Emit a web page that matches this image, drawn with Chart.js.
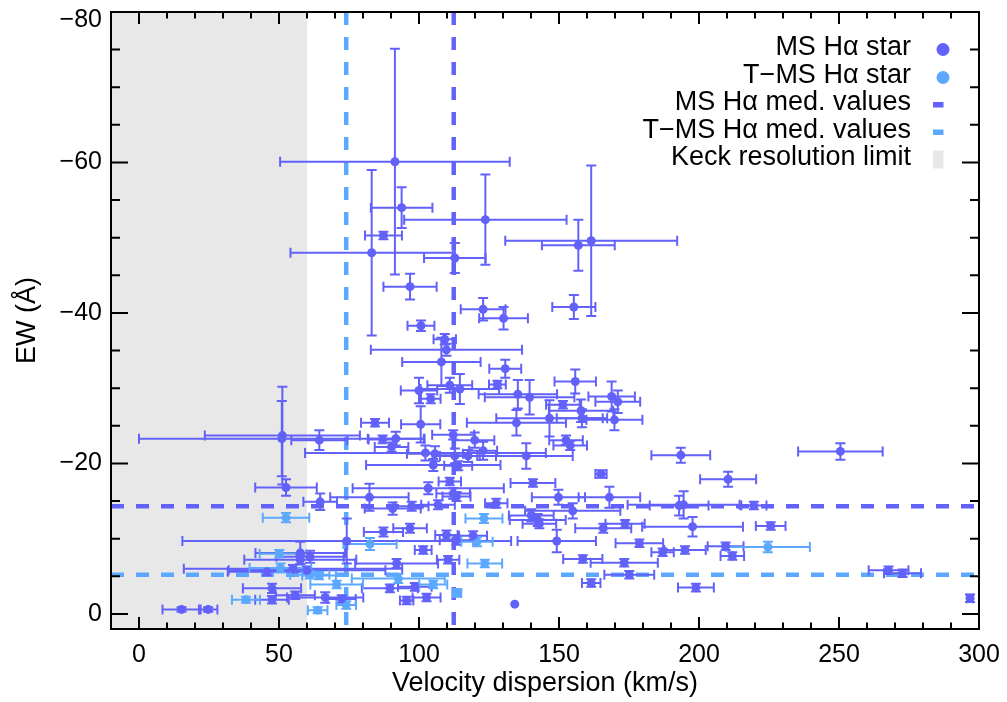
<!DOCTYPE html>
<html>
<head>
<meta charset="utf-8">
<script src="https://cdn.jsdelivr.net/npm/chart.js@4.4.0/dist/chart.umd.min.js"></script>
<style>
  html, body { margin: 0; padding: 0; background: #fff; }
  #wrap { width: 1007px; height: 702px; position: relative; }
</style>
</head>
<body>
<div id="wrap"><canvas id="ewChart"></canvas></div>
<script>
// ---- data ----
const xTicks = [0, 50, 100, 150, 200, 250, 300];
const yTicks = [-80, -60, -40, -20, 0];

// MS Halpha stars: velocity dispersion, EW, and their errors
const msSigma = [91.4, 93.8, 123.7, 87.3, 83.1, 112.8, 161.5, 156.9, 96.8, 155.3,
  122.9, 130.2, 100.7, 109.2, 109.8, 108.0, 130.8, 155.8, 100.0, 104.2,
  111.0, 114.6, 128.0, 135.3, 139.5, 151.4, 157.9, 168.8, 171.0, 169.8,
  158.2, 146.6, 134.8, 100.6, 112.2, 119.9, 152.5, 154.0, 51.2, 51.0,
  64.4, 84.3, 87.0, 91.7, 90.2, 102.3, 105.7, 112.8, 117.5, 122.9,
  138.3, 105.1, 114.0, 193.5, 250.5, 210.4, 165.0, 140.7, 52.5, 103.3,
  111.0, 112.2, 113.4, 149.8, 168.0, 64.7, 82.3, 90.6, 97.4, 106.8,
  127.6, 154.9, 192.9, 194.5, 219.6, 140.1, 142.4, 143.0, 173.6, 165.8,
  197.7, 225.6, 87.3, 96.8, 109.8, 119.3, 113.4, 74.2, 149.2, 178.7,
  187.0, 195.0, 209.5, 211.9, 101.5, 57.6, 110.4, 158.5, 173.3, 92.0,
  61.1, 57.6, 45.7, 55.0, 60.0, 175.1, 267.7, 272.7, 161.5, 198.9,
  89.6, 98.5, 47.5, 47.5, 55.8, 66.5, 72.4, 102.7, 95.6, 134.2,
  15.2, 24.7, 296.8];
const msEW = [-60.1, -54.0, -52.4, -50.3, -48.0, -47.3, -49.6, -49.0, -43.5, -40.8,
  -40.5, -39.3, -38.3, -36.5, -35.1, -33.5, -32.6, -30.9, -29.7, -28.6,
  -30.4, -29.9, -30.5, -29.2, -28.8, -27.8, -27.0, -28.9, -28.2, -25.8,
  -26.0, -26.0, -25.4, -25.2, -23.8, -23.1, -23.1, -22.4, -23.7, -23.3,
  -23.1, -25.4, -23.2, -23.3, -22.2, -21.4, -21.3, -21.0, -21.0, -21.7,
  -21.0, -19.8, -19.7, -21.1, -21.6, -17.9, -18.6, -17.4, -16.8, -16.7,
  -17.6, -16.0, -15.6, -15.5, -15.5, -14.9, -15.5, -14.0, -14.3, -14.5,
  -14.7, -13.7, -14.4, -14.5, -14.4, -13.1, -12.5, -12.0, -12.0, -11.4,
  -11.6, -11.7, -10.9, -11.4, -10.5, -10.4, -9.8, -9.7, -9.7, -9.4,
  -8.2, -8.5, -9.0, -7.7, -8.5, -8.1, -7.2, -7.3, -6.8, -6.7,
  -7.6, -7.2, -5.6, -6.0, -5.8, -5.2, -5.8, -5.4, -4.1, -3.5,
  -3.4, -3.6, -3.4, -1.9, -2.5, -2.2, -2.0, -2.2, -1.8, -1.3,
  -0.6, -0.6, -2.1];
const msSigmaErr = [41, 11, 29, 6.6, 29, 11, 30.7, 13, 9.5, 7.7,
  8, 8.7, 4.8, 4, 27, 14, 5.7, 7.4, 6.5, 3.5,
  8, 14, 3, 14, 16, 6, 11.5, 8.3, 8, 10,
  9, 19, 17.7, 7, 7.5, 7, 6, 6, 27.7, 51,
  10, 5, 5, 10, 6, 43, 10, 8, 10, 5,
  16.6, 24, 5, 10.5, 15.1, 10, 2, 8, 11, 27,
  4, 6, 5, 9.5, 11, 6, 14, 10, 6, 6,
  4, 17, 10.5, 20, 4.5, 8, 10, 6, 7, 10,
  18, 5.3, 7, 6, 4, 5, 6, 58.7, 14, 8.5,
  4, 7.4, 6.4, 4.2, 3, 16, 4, 7, 12, 14.8,
  12, 20, 14, 39, 28, 8.9, 7.1, 6.6, 3.3, 6.4,
  10, 6, 10.4, 6, 7, 13.6, 5, 5, 2.4, 0,
  6.8, 3.3, 1];
const msEWErr = [15, 2.7, 6, 0.5, 11, 2, 10, 3.4, 1.7, 1.6,
  1.5, 1.5, 0.7, 0.7, 0.8, 3.2, 1.2, 1.6, 1.7, 0.6,
  1, 2, 0.5, 1.9, 2.3, 0.5, 1.5, 2, 1.5, 1.4,
  1.2, 2.4, 1.7, 2.4, 0.6, 1, 0.6, 0.6, 6.5, 5,
  1.3, 0.5, 0.5, 0.9, 0.6, 1, 1, 1, 0.8, 1.2,
  1.7, 0.8, 0.6, 1, 1.1, 1, 0.5, 0.5, 1.1, 0.8,
  0.5, 0.7, 0.6, 1, 1.4, 1.1, 1.8, 0.8, 0.6, 0.6,
  0.6, 1, 1.3, 1.8, 0.5, 0.8, 0.8, 0.6, 0.5, 0.6,
  1.3, 0.5, 0.6, 0.6, 0.6, 0.6, 0.6, 3, 1.5, 0.5,
  0.5, 0.5, 0.5, 0.5, 0.5, 1.5, 0.5, 0.5, 0.5, 0.6,
  0.8, 0.6, 0.5, 0.5, 0.5, 0.5, 0.5, 0.5, 0.5, 0.5,
  0.5, 0.5, 0.6, 0.5, 0.5, 0.7, 0.5, 0.5, 0.5, 0,
  0.3, 0.3, 0.5];

// T-MS Halpha stars
const tmsSigma = [52.5, 50.1, 50.5, 61.0, 64.3, 82.5, 70.6, 74.0, 63.8, 38.2,
  92.6, 105.1, 113.6, 123.2, 120.7, 123.5, 224.6];
const tmsEW = [-12.8, -8.0, -6.1, -5.2, -5.1, -9.3, -3.9, -1.2, -0.5, -1.9,
  -4.7, -3.9, -2.8, -12.7, -9.6, -6.7, -8.9];
const tmsSigmaErr = [8.3, 7, 11, 7, 6, 9.5, 9.4, 3.5, 3.5, 5,
  16.6, 5, 1.5, 6.6, 5.6, 6.2, 15];
const tmsEWErr = [0.6, 0.5, 0.6, 0.5, 0.5, 0.8, 0.5, 0.5, 0.4, 0.4,
  0.6, 0.5, 0.5, 0.6, 0.6, 0.5, 0.7];

// median values and resolution limit
const msMedSigma = 112.4;
const msMedEW = -14.3;
const tmsMedSigma = 74.0;
const tmsMedEW = -5.2;
const keckLimit = 60;

const legendLabels = ['MS H\u03b1 star', 'T\u2212MS H\u03b1 star', 'MS H\u03b1 med. values',
  'T\u2212MS H\u03b1 med. values', 'Keck resolution limit'];

// ---- styles ----
const COL_MS = 'rgb(98, 98, 250)';
const COL_TMS = 'rgb(92, 168, 255)';
const FONT = '"Liberation Sans", Arial, Helvetica, sans-serif';

function toPoints(xs, ys) {
  return xs.map((v, i) => ({ x: v, y: ys[i] }));
}

function drawErrors(ctx, xs, ys, xe, ye, sx, sy, color) {
  ctx.strokeStyle = color;
  ctx.lineWidth = 2;
  const cap = 5;
  for (let i = 0; i < xs.length; i++) {
    const px = sx.getPixelForValue(xs[i]);
    const py = sy.getPixelForValue(ys[i]);
    ctx.beginPath();
    if (xe[i] > 0) {
      const x0 = sx.getPixelForValue(xs[i] - xe[i]);
      const x1 = sx.getPixelForValue(xs[i] + xe[i]);
      ctx.moveTo(x0, py); ctx.lineTo(x1, py);
      ctx.moveTo(x0, py - cap); ctx.lineTo(x0, py + cap);
      ctx.moveTo(x1, py - cap); ctx.lineTo(x1, py + cap);
    }
    if (ye[i] > 0) {
      const y0 = sy.getPixelForValue(ys[i] - ye[i]);
      const y1 = sy.getPixelForValue(ys[i] + ye[i]);
      ctx.moveTo(px, y0); ctx.lineTo(px, y1);
      ctx.moveTo(px - cap, y0); ctx.lineTo(px + cap, y0);
      ctx.moveTo(px - cap, y1); ctx.lineTo(px + cap, y1);
    }
    ctx.stroke();
  }
}

const overlay = {
  id: 'overlay',
  beforeDatasetsDraw(chart) {
    const { ctx, chartArea: a, scales: { x, y } } = chart;
    ctx.save();
    ctx.beginPath();
    ctx.rect(a.left, a.top, a.right - a.left, a.bottom - a.top);
    ctx.clip();

    // Keck resolution limit shading
    ctx.fillStyle = '#e8e8e8';
    ctx.fillRect(a.left, a.top, x.getPixelForValue(keckLimit) - a.left, a.bottom - a.top);

    // median lines
    ctx.lineWidth = 4.5;
    ctx.setLineDash([13, 12]);
    const vline = (v, c) => {
      const px = x.getPixelForValue(v);
      ctx.strokeStyle = c;
      ctx.beginPath(); ctx.moveTo(px, a.top); ctx.lineTo(px, a.bottom); ctx.stroke();
    };
    const hline = (v, c) => {
      const py = y.getPixelForValue(v);
      ctx.strokeStyle = c;
      ctx.beginPath(); ctx.moveTo(a.left, py); ctx.lineTo(a.right, py); ctx.stroke();
    };
    vline(tmsMedSigma, COL_TMS);
    vline(msMedSigma, COL_MS);
    hline(msMedEW, COL_MS);
    hline(tmsMedEW, COL_TMS);
    ctx.setLineDash([]);

    drawErrors(ctx, msSigma, msEW, msSigmaErr, msEWErr, x, y, COL_MS);
    drawErrors(ctx, tmsSigma, tmsEW, tmsSigmaErr, tmsEWErr, x, y, COL_TMS);
    ctx.restore();
  },
  afterDraw(chart) {
    const { ctx, chartArea: a, scales: { x, y } } = chart;
    ctx.save();
    ctx.strokeStyle = '#000';
    ctx.lineWidth = 2;
    ctx.strokeRect(a.left, a.top, a.right - a.left, a.bottom - a.top);

    // inward ticks on all four sides
    ctx.beginPath();
    for (let v = 0; v <= 300; v += 10) {
      const px = x.getPixelForValue(v);
      const len = v % 50 === 0 ? 12 : 6.5;
      ctx.moveTo(px, a.bottom); ctx.lineTo(px, a.bottom - len);
      ctx.moveTo(px, a.top); ctx.lineTo(px, a.top + len);
    }
    for (let v = -80; v <= 0; v += 5) {
      const py = y.getPixelForValue(v);
      const len = v % 20 === 0 ? 17 : 9;
      ctx.moveTo(a.left, py); ctx.lineTo(a.left + len, py);
      ctx.moveTo(a.right, py); ctx.lineTo(a.right - len, py);
    }
    ctx.stroke();

    // tick labels
    ctx.fillStyle = '#000';
    ctx.font = '25px ' + FONT;
    ctx.textAlign = 'center';
    ctx.textBaseline = 'middle';
    xTicks.forEach(v => ctx.fillText(String(v), x.getPixelForValue(v), 655));
    ctx.textAlign = 'right';
    yTicks.forEach(v => {
      const py = Math.max(y.getPixelForValue(v), a.top + 8);
      ctx.fillText(String(v).replace('-', '\u2212'), a.left - 9, py);
    });

    // axis titles
    ctx.font = '27px ' + FONT;
    ctx.textAlign = 'center';
    ctx.fillText('Velocity dispersion (km/s)', (a.left + a.right) / 2, 684);
    ctx.save();
    ctx.translate(28, (a.top + a.bottom) / 2);
    ctx.rotate(-Math.PI / 2);
    ctx.fillText('EW (\u00c5)', 0, 0);
    ctx.restore();

    // legend
    ctx.font = '27px ' + FONT;
    ctx.textAlign = 'right';
    ctx.textBaseline = 'alphabetic';
    const base = [55, 82.5, 110, 137.5, 165];
    legendLabels.forEach((t, i) => ctx.fillText(t, 911, base[i]));
    ctx.fillStyle = COL_MS;
    ctx.beginPath(); ctx.arc(943, 49.5, 6.5, 0, Math.PI * 2); ctx.fill();
    ctx.fillStyle = COL_TMS;
    ctx.beginPath(); ctx.arc(943, 77.5, 6.5, 0, Math.PI * 2); ctx.fill();
    ctx.fillStyle = COL_MS;
    ctx.fillRect(933, 102, 10.5, 5.5);
    ctx.fillStyle = COL_TMS;
    ctx.fillRect(933, 129.5, 10.5, 5.5);
    ctx.fillStyle = '#e8e8e8';
    ctx.fillRect(933, 150.5, 10.5, 18);
    ctx.restore();
  }
};

new Chart(document.getElementById('ewChart'), {
  type: 'scatter',
  data: {
    datasets: [
      {
        label: legendLabels[0],
        data: toPoints(msSigma, msEW),
        backgroundColor: COL_MS,
        borderWidth: 0,
        pointRadius: 4.5,
        clip: 0
      },
      {
        label: legendLabels[1],
        data: toPoints(tmsSigma, tmsEW),
        backgroundColor: COL_TMS,
        borderWidth: 0,
        pointRadius: 4.5,
        clip: 0
      }
    ]
  },
  options: {
    responsive: true,
    maintainAspectRatio: false,
    animation: false,
    devicePixelRatio: 1,
    layout: { padding: { top: 12, right: 28, left: 0, bottom: 0 } },
    plugins: { legend: { display: false }, tooltip: { enabled: false } },
    scales: {
      x: {
        type: 'linear',
        min: -10,
        max: 300,
        grid: { display: false, drawTicks: false },
        border: { display: false },
        ticks: { display: false },
        afterBuildTicks: s => { s.ticks = xTicks.map(v => ({ value: v })); },
        afterFit: s => { s.height = 73; }
      },
      y: {
        type: 'linear',
        min: -80,
        max: 2,
        reverse: true,
        grid: { display: false, drawTicks: false },
        border: { display: false },
        ticks: { display: false },
        afterBuildTicks: s => { s.ticks = yTicks.map(v => ({ value: v })); },
        afterFit: s => { s.width = 111; }
      }
    }
  },
  plugins: [overlay]
});
</script>
</body>
</html>
